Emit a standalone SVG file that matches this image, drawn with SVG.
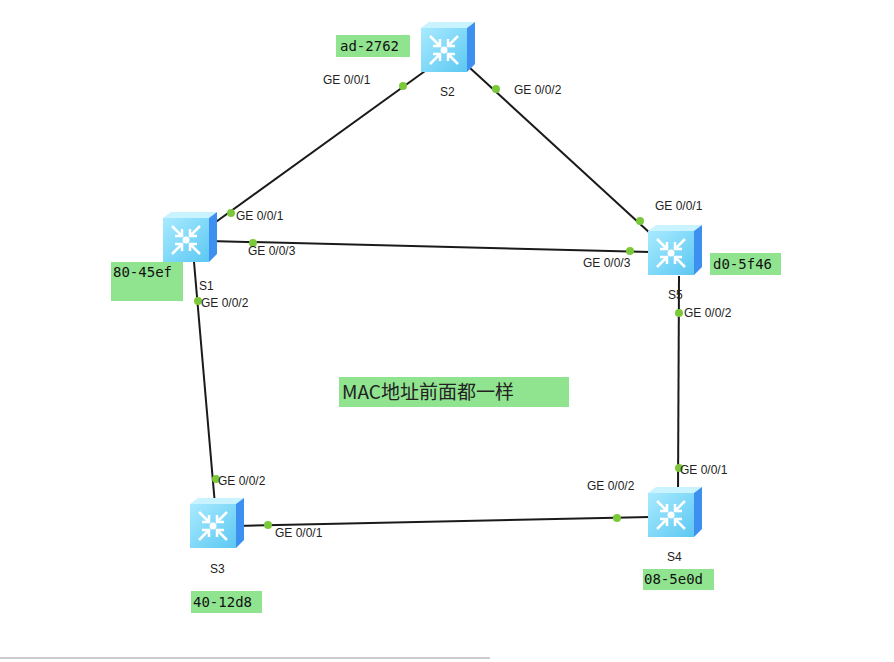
<svg xmlns="http://www.w3.org/2000/svg" width="894" height="662" viewBox="0 0 894 662">
<style>
.l{font-family:"Liberation Sans",Arial,sans-serif;font-size:12px;fill:#222}
.m{font-family:"DejaVu Sans Mono","Liberation Mono",monospace;font-size:14px;fill:#111}
.g{fill:#90e38f}
.c line{stroke:#1a1a1a;stroke-width:2}
.d{fill:#7bc93a}
</style>
<defs>
<linearGradient id="fr" x1="0" y1="0" x2="1" y2="1"><stop offset="0" stop-color="#a8eaff"/><stop offset="1" stop-color="#5cc8f2"/></linearGradient>
<g id="sw">
<polygon points="0,6 8,0 54,0 46,6" fill="#c9f3ff"/>
<polygon points="46,6 54,0 54,42 46,50" fill="#3d8ff0"/>
<rect x="0" y="6" width="46" height="44" fill="url(#fr)"/>
<g stroke="#fff" stroke-width="2.5" fill="none">
<path d="M9,14 L19,24 M19,17 L19,24 L12,24"/>
<path d="M37,14 L27,24 M27,17 L27,24 L34,24"/>
<path d="M9,42 L19,32 M19,39 L19,32 L12,32"/>
<path d="M37,42 L27,32 M27,39 L27,32 L34,32"/>
</g>
<circle cx="23" cy="28" r="3.5" fill="#fff"/>
</g>
</defs>
<rect width="894" height="662" fill="#fff"/>
<line x1="0" y1="658" x2="490" y2="658" stroke="#ccc" stroke-width="2"/>
<g class="c">
<line x1="432" y1="66" x2="213" y2="224"/>
<line x1="470" y1="68" x2="651" y2="234"/>
<line x1="209" y1="241" x2="650" y2="252"/>
<line x1="194" y1="262" x2="215" y2="505"/>
<line x1="236" y1="526" x2="650" y2="517"/>
<line x1="679" y1="276" x2="678" y2="492"/>
<g class="d">
<circle cx="403" cy="86" r="4"/><circle cx="231" cy="213" r="4"/>
<circle cx="496" cy="89" r="4"/><circle cx="640" cy="221" r="4"/>
<circle cx="253" cy="243" r="4"/><circle cx="630" cy="251" r="4"/>
<circle cx="198" cy="301" r="4"/><circle cx="216" cy="479" r="4"/>
<circle cx="268" cy="525" r="4"/><circle cx="617" cy="518" r="4"/>
<circle cx="679" cy="313" r="4"/><circle cx="679" cy="468" r="4"/>
</g>
</g>
<g id="S2"><use href="#sw" x="421" y="22"/><text class="l" x="440" y="96">S2</text>
<rect class="g" x="336" y="35" width="74" height="22"/><text class="m" x="340" y="51">ad-2762</text></g>
<g id="S1"><use href="#sw" x="163" y="212"/><text class="l" x="199" y="290">S1</text>
<rect class="g" x="111" y="262" width="72" height="39"/><text class="m" x="113" y="277">80-45ef</text></g>
<g id="S5"><use href="#sw" x="648" y="225"/><text class="l" x="668" y="299">S5</text>
<rect class="g" x="710" y="253" width="71" height="22"/><text class="m" x="713" y="269">d0-5f46</text></g>
<g id="S3"><use href="#sw" x="190" y="498"/><text class="l" x="210" y="573">S3</text>
<rect class="g" x="191" y="591" width="71" height="22"/><text class="m" x="193" y="607">40-12d8</text></g>
<g id="S4"><use href="#sw" x="648" y="487"/><text class="l" x="667" y="561">S4</text>
<rect class="g" x="643" y="569" width="71" height="21"/><text class="m" x="644" y="584">08-5e0d</text></g>
<g id="labels" class="l">
<text class="l" x="323" y="84">GE 0/0/1</text>
<text class="l" x="514" y="94">GE 0/0/2</text>
<text class="l" x="236" y="220">GE 0/0/1</text>
<text class="l" x="248" y="255">GE 0/0/3</text>
<text class="l" x="201" y="307">GE 0/0/2</text>
<text class="l" x="655" y="210">GE 0/0/1</text>
<text class="l" x="583" y="267">GE 0/0/3</text>
<text class="l" x="684" y="317">GE 0/0/2</text>
<text class="l" x="218" y="485">GE 0/0/2</text>
<text class="l" x="275" y="537">GE 0/0/1</text>
<text class="l" x="587" y="490">GE 0/0/2</text>
<text class="l" x="680" y="474">GE 0/0/1</text>
</g>
<g id="note"><rect class="g" x="339" y="377" width="230" height="30"/>
<text x="342" y="399" style="font-family:'Noto Sans CJK SC','DejaVu Sans',sans-serif;font-size:19px;fill:#222">MAC地址前面都一样</text></g>
</svg>
